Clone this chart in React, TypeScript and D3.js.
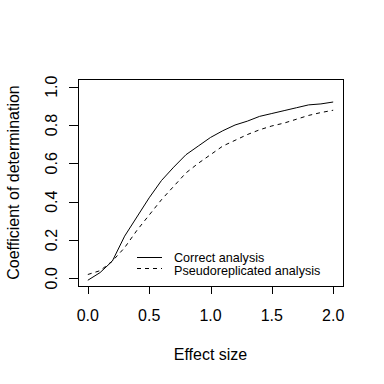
import React from "react";
import * as d3 from "d3";

const effectSize = [0, 0.1, 0.2, 0.3, 0.4, 0.5, 0.6, 0.7, 0.8, 0.9, 1.0, 1.1, 1.2, 1.3, 1.4, 1.5, 1.6, 1.7, 1.8, 1.9, 2.0];
const correct = [-0.01, 0.03, 0.09, 0.22, 0.32, 0.42, 0.51, 0.58, 0.645, 0.69, 0.735, 0.77, 0.80, 0.82, 0.845, 0.86, 0.875, 0.89, 0.905, 0.91, 0.92];
const pseudo = [0.02, 0.04, 0.09, 0.16, 0.25, 0.33, 0.41, 0.48, 0.55, 0.60, 0.645, 0.69, 0.72, 0.75, 0.775, 0.795, 0.81, 0.83, 0.85, 0.865, 0.877];
const xTicks = [0, 0.5, 1.0, 1.5, 2.0];
const yTicks = [0, 0.2, 0.4, 0.6, 0.8, 1.0];
const seriesNames = ["Correct analysis", "Pseudoreplicated analysis"];

const W = 384, H = 384;
const L = 78, R = 343, T = 79, B = 286;
const font = "'Liberation Sans', Arial, sans-serif";

export default function App() {
  const x = d3.scaleLinear().domain([-0.08, 2.08]).range([L, R]);
  const y = d3.scaleLinear().domain([-0.04, 1.04]).range([B, T]);
  const line = (vals: number[]) =>
    d3.line<number>().x((_, i) => x(effectSize[i])).y((v) => y(v))(vals) || "";
  return (
    <div style={{ position: "absolute", left: 0, top: 0 }}>
      <svg width={W} height={H} style={{ display: "block", background: "#fff" }}>
        <rect x={0} y={0} width={W} height={H} fill="#fff" />
        <rect x={L + 0.5} y={T + 0.5} width={R - L} height={B - T} fill="none" stroke="#000" strokeWidth={1} />
        <path d={line(correct)} fill="none" stroke="#000" strokeWidth={1} />
        <path d={line(pseudo)} fill="none" stroke="#000" strokeWidth={1} strokeDasharray="4,4" />
        {/* x axis */}
        <line x1={Math.round(x(0)) + 0.5} x2={Math.round(x(2)) + 0.5} y1={B + 0.5} y2={B + 0.5} stroke="#000" />
        {xTicks.map((t) => (
          <g key={"x" + t}>
            <line x1={Math.round(x(t)) + 0.5} x2={Math.round(x(t)) + 0.5} y1={B} y2={B + 8} stroke="#000" />
            <text x={x(t)} y={321} textAnchor="middle" fontFamily={font} fontSize={16} fill="#000">
              {t.toFixed(1)}
            </text>
          </g>
        ))}
        {/* y axis */}
        {yTicks.map((t) => (
          <g key={"y" + t}>
            <line x1={L - 9} x2={L} y1={Math.round(y(t)) + 0.5} y2={Math.round(y(t)) + 0.5} stroke="#000" />
            <text
              transform={`translate(${57},${y(t)}) rotate(-90)`}
              textAnchor="middle"
              fontFamily={font}
              fontSize={16}
              fill="#000"
            >
              {t.toFixed(1)}
            </text>
          </g>
        ))}
        <text x={(L + R) / 2} y={360} textAnchor="middle" fontFamily={font} fontSize={16} fill="#000">
          Effect size
        </text>
        <text
          transform={`translate(${19},${(T + B) / 2}) rotate(-90)`}
          textAnchor="middle"
          fontFamily={font}
          fontSize={16}
          fill="#000"
        >
          Coefficient of determination
        </text>
        {/* legend */}
        <line x1={137} x2={162} y1={257.5} y2={257.5} stroke="#000" />
        <line x1={137} x2={162} y1={268.5} y2={268.5} stroke="#000" strokeDasharray="4,4" />
        <text x={174} y={262} fontFamily={font} fontSize={12.6} fill="#000">{seriesNames[0]}</text>
        <text x={174} y={274.5} fontFamily={font} fontSize={12.6} fill="#000">{seriesNames[1]}</text>
      </svg>
    </div>
  );
}
